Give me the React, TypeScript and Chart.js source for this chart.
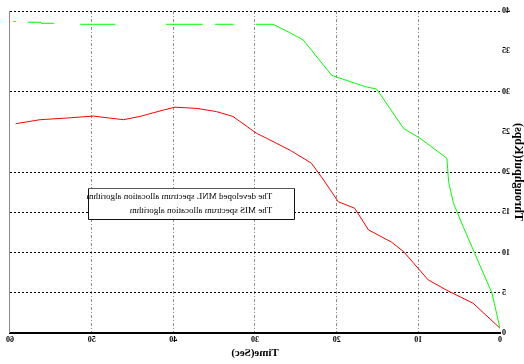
import React, { useEffect, useRef } from "react";
import { Chart, registerables } from "chart.js";

Chart.register(...registerables);

// X tick range (seconds)
const xTicks = [0, 10, 20, 30, 40, 50, 60];
// Y tick range
const yTicks = [0, 5, 10, 15, 20, 25, 30, 35, 40];

const seriesNames = [
  "The developed MNL spectrum allocation algorithm",
  "The MIS spectrum allocation algorithm",
];

// Developed MNL (green); null = gap in the drawn line
const greenTime = [0, 1.0, 3.1, 4.5, 5.7, 6.3, 6.5, 9.8, 11.8, 15.1, 16.5, 20.6, 24.1, 25.7, 27.8, 29.9, 31.2, 32.6, 34.9, 35.6, 36.4, 40.9, 44.0, 47.1, 51.4, 53.0, 54.6, 56.2, 56.2, 57.8, 58.6, 59.3, 59.6];
const greenValue = [0.6, 5.0, 9.9, 13.2, 16.1, 18.8, 21.7, 24.2, 25.4, 30.3, 30.6, 32.0, 36.4, 37.3, 38.35, 38.35, null, 38.35, 38.35, null, 38.35, 38.35, null, 38.35, 38.35, null, 38.47, 38.47, 38.6, 38.6, null, 38.7, 38.7];

// MIS (red)
const redTime = [0, 3.3, 6.5, 8.8, 10.0, 11.8, 13.3, 16.1, 17.8, 19.8, 21.6, 23.1, 25.7, 28.6, 29.8, 32.7, 34.7, 37.1, 39.8, 41.2, 44.1, 46.1, 47.8, 49.8, 53.1, 56.3, 59.3];
const redValue = [0.6, 3.7, 5.3, 6.6, 8.0, 10.1, 11.3, 12.8, 15.5, 16.3, 19.0, 21.1, 22.7, 24.2, 24.8, 26.9, 27.5, 27.9, 28.05, 27.7, 26.9, 26.5, 26.7, 26.95, 26.7, 26.5, 26.0];

const hiddenYGrid = [0, 25, 35];

const FONT = '"Liberation Serif", "DejaVu Serif", serif';

const toPoints = (xs: number[], ys: (number | null)[]) =>
  xs.map((x, i) => ({ x, y: ys[i] }));

const framePlugin = {
  id: "frameAndLegend",
  afterDatasetsDraw(chart: any) {
    const { ctx, chartArea: a } = chart;
    const w = a.right - a.left;
    const h = a.bottom - a.top;
    ctx.save();
    // right frame line
    ctx.strokeStyle = "#8a8a8a";
    ctx.lineWidth = 1;
    ctx.setLineDash([]);
    ctx.beginPath();
    ctx.moveTo(Math.round(a.right) + 0.5, a.top);
    ctx.lineTo(Math.round(a.right) + 0.5, a.bottom);
    ctx.stroke();

    // legend box
    const bx = Math.round(a.left + 0.418 * w) + 0.5;
    const bx2 = Math.round(a.left + 0.839 * w) + 0.5;
    const by = Math.round(a.top + 0.55 * h) + 0.5;
    const by2 = Math.round(a.top + 0.646 * h) + 0.5;
    ctx.fillStyle = "#ffffff";
    ctx.fillRect(bx, by, bx2 - bx, by2 - by);
    ctx.strokeStyle = "#555555";
    ctx.beginPath();
    ctx.moveTo(bx, by);
    ctx.lineTo(bx2, by);
    ctx.stroke();
    ctx.strokeStyle = "#111111";
    ctx.beginPath();
    ctx.moveTo(bx2, by);
    ctx.lineTo(bx2, by2);
    ctx.lineTo(bx, by2);
    ctx.lineTo(bx, by);
    ctx.stroke();

    ctx.fillStyle = "#000000";
    ctx.font = `9px ${FONT}`;
    ctx.textBaseline = "middle";
    ctx.textAlign = "left";
    const tx = a.left + 0.465 * w;
    ctx.fillText(seriesNames[0], tx, a.top + 0.575 * h);
    ctx.fillText(seriesNames[1], tx, a.top + 0.62 * h);
    ctx.restore();
  },
};

export default function App() {
  const ref = useRef<HTMLCanvasElement | null>(null);

  useEffect(() => {
    document.body.style.margin = "0";
    const chart = new Chart(ref.current as HTMLCanvasElement, {
      type: "line",
      data: {
        datasets: [
          {
            label: seriesNames[0],
            data: toPoints(greenTime, greenValue) as any,
            borderColor: "#00ff00",
            backgroundColor: "#00ff00",
            borderWidth: 1,
            pointRadius: 0,
            spanGaps: false,
            tension: 0,
          },
          {
            label: seriesNames[1],
            data: toPoints(redTime, redValue) as any,
            borderColor: "#ff0000",
            backgroundColor: "#ff0000",
            borderWidth: 1,
            pointRadius: 0,
            spanGaps: false,
            tension: 0,
          },
        ],
      },
      options: {
        animation: false,
        responsive: false,
        maintainAspectRatio: false,
        layout: { padding: { top: 11, right: 10, bottom: 0, left: 0 } },
        plugins: {
          legend: { display: false },
          tooltip: { enabled: false },
        },
        scales: {
          x: {
            type: "linear",
            min: xTicks[0],
            max: xTicks[xTicks.length - 1],
            afterBuildTicks: (s: any) => {
              s.ticks = xTicks.map((v) => ({ value: v }));
            },
            afterFit: (s: any) => {
              s.height = 31;
            },
            ticks: {
              color: "#000",
              font: { family: FONT, size: 8, weight: "bold" },
              padding: 2,
              maxRotation: 0,
            },
            grid: {
              drawTicks: false,
              lineWidth: 1,
              color: (c: any) =>
                c.tick && (c.tick.value === xTicks[0] || c.tick.value === xTicks[xTicks.length - 1])
                  ? "rgba(0,0,0,0)"
                  : "rgba(120,120,120,0.85)",
            },
            border: { display: true, color: "#000", width: 2, dash: [3, 2, 1, 2] },
            title: {
              display: true,
              text: "Time(Sec)",
              color: "#000",
              font: { family: FONT, size: 11, weight: "bold" },
              padding: { top: 0, bottom: 4 },
            },
          },
          y: {
            type: "linear",
            min: yTicks[0],
            max: yTicks[yTicks.length - 1],
            afterBuildTicks: (s: any) => {
              s.ticks = yTicks.map((v) => ({ value: v }));
            },
            afterFit: (s: any) => {
              s.width = 24;
            },
            ticks: {
              color: "#000",
              font: { family: FONT, size: 8, weight: "bold" },
              padding: 2,
            },
            grid: {
              drawTicks: false,
              lineWidth: 1,
              color: (c: any) =>
                c.tick && hiddenYGrid.includes(c.tick.value) ? "rgba(0,0,0,0)" : "#000",
            },
            border: { display: false, dash: [2, 2] },
            title: {
              display: true,
              text: "Throughput(Kbps)",
              color: "#000",
              font: { family: FONT, size: 12, weight: "bold" },
              padding: { top: -1.5, bottom: 0 },
            },
          },
        },
      },
      plugins: [framePlugin],
    });
    return () => chart.destroy();
  }, []);

  return (
    <div
      style={{
        position: "fixed",
        left: 0,
        top: 0,
        width: 524,
        height: 364,
        transform: "scaleX(-1)",
        background: "#fff",
      }}
    >
      <canvas ref={ref} width={524} height={364} style={{ display: "block" }} />
    </div>
  );
}
